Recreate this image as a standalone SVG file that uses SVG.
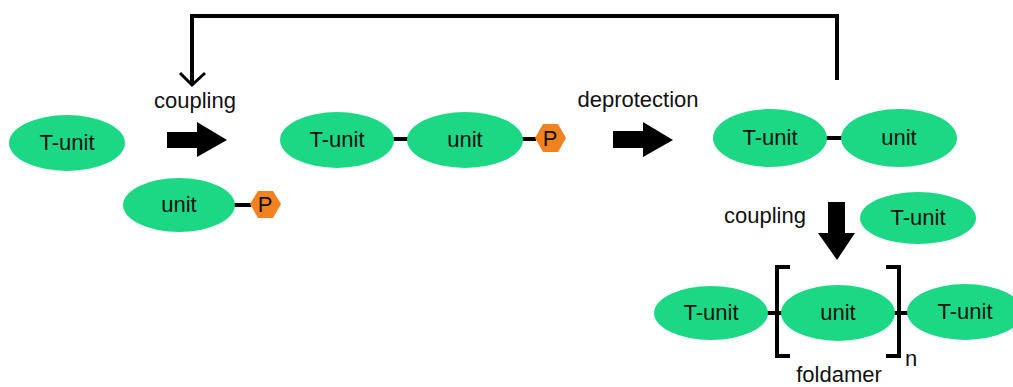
<svg xmlns="http://www.w3.org/2000/svg" width="1013" height="387" viewBox="0 0 1013 387">
<style>
.n{fill:#1cd884}
.t{font-family:"Liberation Sans",Arial,sans-serif;font-size:22px;fill:#111;text-anchor:middle}
.l{font-family:"Liberation Sans",Arial,sans-serif;font-size:22px;fill:#111}
.b{stroke:#000;stroke-width:4;fill:none}
.p{fill:#f28220}
.bk{stroke:#000;stroke-width:4;fill:none;stroke-linecap:butt}
</style>
<rect width="1013" height="387" fill="#fff"/>
<g id="connectors">
<polyline class="b" points="837,80 837,16 192,16 192,83"/>
<polyline points="180,73 192,85 205,73" fill="none" stroke="#000" stroke-width="3"/>
<path d="M167,132 H197 V122 L227,140 L197,157 V148 H167 Z" fill="#000"/>
<path d="M613,131 H643 V122 L673,140 L643,157 V148 H613 Z" fill="#000"/>
<path d="M828,202 H845 V233 H855 L837,260 L818,233 H828 Z" fill="#000"/>
<line class="b" x1="234" y1="205" x2="251" y2="205"/>
<line class="b" x1="393" y1="139" x2="410" y2="139"/>
<line class="b" x1="521" y1="139" x2="536" y2="139"/>
<line class="b" x1="826" y1="138" x2="843" y2="138"/>
<line class="b" x1="766" y1="313" x2="784" y2="313"/>
<line class="b" x1="893" y1="313" x2="909" y2="313"/>
</g>
<g id="bracket-left"><polyline class="bk" points="790,267 777,267 777,356 790,356"/></g>
<g id="bracket-right"><polyline class="bk" points="886,267 899,267 899,356 886,356"/></g>
<g id="tunit1"><ellipse class="n" cx="67" cy="143" rx="58" ry="28"/><text class="t" x="67" y="150">T-unit</text></g>
<g id="unit1"><ellipse class="n" cx="179" cy="205" rx="56" ry="27"/><text class="t" x="179" y="212">unit</text></g>
<g id="p1"><polygon class="p" points="250,204 258,191 273,191 281,204 273,218 258,218"/><text class="t" x="265" y="212">P</text></g>
<g id="tunit2"><ellipse class="n" cx="337" cy="140" rx="57" ry="28"/><text class="t" x="337" y="147">T-unit</text></g>
<g id="unit2"><ellipse class="n" cx="465" cy="140" rx="58" ry="28"/><text class="t" x="465" y="147">unit</text></g>
<g id="p2"><polygon class="p" points="535,138 543,124 558,124 566,138 558,152 543,152"/><text class="t" x="550" y="146">P</text></g>
<g id="tunit3"><ellipse class="n" cx="770" cy="138" rx="57" ry="29"/><text class="t" x="770" y="145">T-unit</text></g>
<g id="unit3"><ellipse class="n" cx="899" cy="138" rx="58" ry="29"/><text class="t" x="899" y="145">unit</text></g>
<g id="tunit4"><ellipse class="n" cx="918" cy="218" rx="58" ry="26"/><text class="t" x="918" y="225">T-unit</text></g>
<g id="tunit5"><ellipse class="n" cx="711" cy="313" rx="57" ry="27"/><text class="t" x="711" y="320">T-unit</text></g>
<g id="unit5"><ellipse class="n" cx="838" cy="313" rx="57" ry="28"/><text class="t" x="838" y="320">unit</text></g>
<g id="tunit6"><ellipse class="n" cx="965" cy="312" rx="58" ry="28"/><text class="t" x="965" y="319">T-unit</text></g>
<g id="labels">
<text class="t" x="195" y="108">coupling</text>
<text class="t" x="638" y="107">deprotection</text>
<text class="t" x="765" y="223">coupling</text>
<text class="l" x="905" y="366">n</text>
<text class="t" x="839" y="382">foldamer</text>
</g>
</svg>
